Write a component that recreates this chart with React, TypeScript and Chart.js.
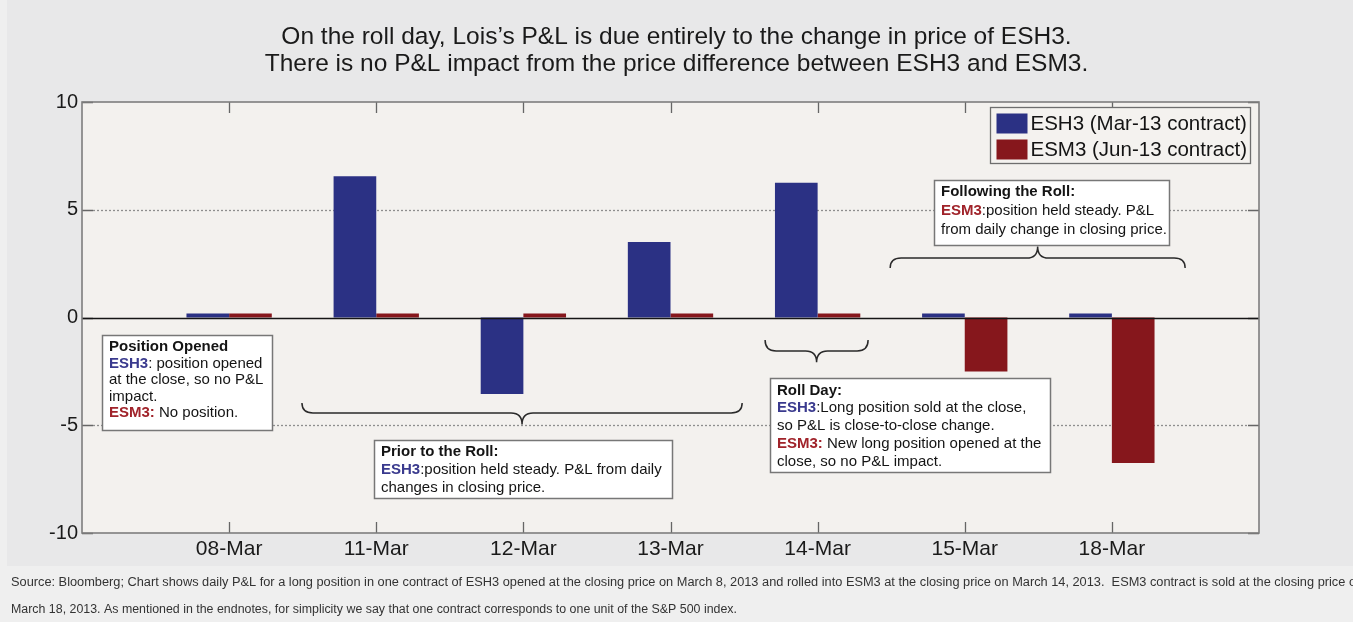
import React, { useEffect, useRef } from 'react';
import { Chart, registerables } from 'chart.js';

Chart.register(...registerables);

// ---------- data ----------
const categories = ['08-Mar', '11-Mar', '12-Mar', '13-Mar', '14-Mar', '15-Mar', '18-Mar'];
const esh3Values = [0.18, 6.55, -3.55, 3.5, 6.25, 0.18, 0.18];
const esm3Values = [0.18, 0.18, 0.18, 0.18, 0.18, -2.5, -6.75];
const seriesLabels = ['ESH3 (Mar-13 contract)', 'ESM3 (Jun-13 contract)'];
const yTickValues = [-10, -5, 0, 5, 10];
const titleLines = [
  'On the roll day, Lois\u2019s P&L is due entirely to the change in price of ESH3.',
  'There is no P&L impact from the price difference between ESH3 and ESM3.',
];
const footerLines = [
  'Source: Bloomberg; Chart shows daily P&L for a long position in one contract of ESH3 opened at the closing price on March 8, 2013 and rolled into ESM3 at the closing price on March 14, 2013.  ESM3 contract is sold at the closing price on',
  'March 18, 2013. As mentioned in the endnotes, for simplicity we say that one contract corresponds to one unit of the S&P 500 index.',
];

// ---------- style ----------
const FONT = '"Liberation Sans", Arial, Helvetica, sans-serif';
const BLUE = '#2b3184';
const RED = '#86171c';
const LBL_BLUE = '#3a3a8e';
const LBL_RED = '#a0232a';

type Seg = { t: string; bold?: boolean; color?: string };
type Note = { x1: number; x2: number; yTop: number; yBottom: number; lh: number; first: number; lines: Seg[][] };

const noteOpened: Note = {
  x1: 0.136, x2: 1.29, yTop: -0.81, yBottom: -5.22, lh: 16.5, first: 11.5,
  lines: [
    [{ t: 'Position Opened', bold: true }],
    [{ t: 'ESH3', bold: true, color: LBL_BLUE }, { t: ': position opened' }],
    [{ t: 'at the close, so no P&L' }],
    [{ t: 'impact.' }],
    [{ t: 'ESM3:', bold: true, color: LBL_RED }, { t: ' No position.' }],
  ],
};
const notePrior: Note = {
  x1: 1.985, x2: 4.01, yTop: -5.68, yBottom: -8.38, lh: 18, first: 11.5,
  lines: [
    [{ t: 'Prior to the Roll:', bold: true }],
    [{ t: 'ESH3', bold: true, color: LBL_BLUE }, { t: ':position held steady. P&L from daily' }],
    [{ t: 'changes in closing price.' }],
  ],
};
const noteRoll: Note = {
  x1: 4.677, x2: 6.58, yTop: -2.81, yBottom: -7.17, lh: 17.8, first: 12,
  lines: [
    [{ t: 'Roll Day:', bold: true }],
    [{ t: 'ESH3', bold: true, color: LBL_BLUE }, { t: ':Long position sold at the close,' }],
    [{ t: 'so P&L is close-to-close change.' }],
    [{ t: 'ESM3:', bold: true, color: LBL_RED }, { t: ' New long position opened at the' }],
    [{ t: 'close, so no P&L impact.' }],
  ],
};
const noteFollowing: Note = {
  x1: 5.79, x2: 7.39, yTop: 6.38, yBottom: 3.36, lh: 19, first: 11.5,
  lines: [
    [{ t: 'Following the Roll:', bold: true }],
    [{ t: 'ESM3', bold: true, color: LBL_RED }, { t: ':position held steady. P&L' }],
    [{ t: 'from daily change in closing price.' }],
  ],
};
const notes = [noteOpened, notePrior, noteRoll, noteFollowing];

// braces: x range (category units), y of ends, line, tip (value units)
const braces = [
  { x1: 1.495, x2: 4.487, yEnd: -3.97, yLine: -4.43, yTip: -4.96 },
  { x1: 4.643, x2: 5.343, yEnd: -1.04, yLine: -1.55, yTip: -2.08 },
  { x1: 5.493, x2: 7.498, yEnd: 2.3, yLine: 2.76, yTip: 3.3 },
];

function drawBrace(ctx: CanvasRenderingContext2D, x1: number, x2: number, yEnd: number, yLine: number, yTip: number) {
  const xm = (x1 + x2) / 2;
  const r = Math.min(11, (x2 - x1) / 8);
  ctx.beginPath();
  ctx.moveTo(x1, yEnd);
  ctx.quadraticCurveTo(x1, yLine, x1 + r, yLine);
  ctx.lineTo(xm - r, yLine);
  ctx.quadraticCurveTo(xm, yLine, xm, yTip);
  ctx.quadraticCurveTo(xm, yLine, xm + r, yLine);
  ctx.lineTo(x2 - r, yLine);
  ctx.quadraticCurveTo(x2, yLine, x2, yEnd);
  ctx.stroke();
}

const decorPlugin = {
  id: 'decor',
  beforeDraw(chart: any) {
    const { ctx, chartArea: a, width, height } = chart;
    ctx.save();
    ctx.fillStyle = '#efefef';
    ctx.fillRect(0, 0, width, height);
    ctx.fillStyle = '#e8e8e9';
    ctx.fillRect(7, 0, width - 7, 566);
    ctx.fillStyle = '#f3f1ee';
    ctx.fillRect(a.left, a.top, a.right - a.left, a.bottom - a.top);
    ctx.restore();
  },
  beforeDatasetsDraw(chart: any) {
    const { ctx, chartArea: a, scales } = chart;
    const x = scales.x;
    const y = scales.y;
    ctx.save();
    ctx.strokeStyle = '#8e8e8e';
    ctx.lineWidth = 1.3;
    ctx.setLineDash([2, 2]);
    for (const v of yTickValues) {
      if (v === 0 || v === 10 || v === -10) continue;
      const py = Math.round(y.getPixelForValue(v)) + 0.5;
      ctx.beginPath();
      ctx.moveTo(a.left + 11, py);
      ctx.lineTo(a.right - 11, py);
      ctx.stroke();
    }
    ctx.setLineDash([]);
    ctx.strokeStyle = '#666';
    ctx.lineWidth = 1.3;
    for (const v of yTickValues) {
      const py = Math.round(y.getPixelForValue(v)) + 0.5;
      ctx.beginPath();
      ctx.moveTo(a.left, py);
      ctx.lineTo(a.left + 11, py);
      ctx.moveTo(a.right - 11, py);
      ctx.lineTo(a.right, py);
      ctx.stroke();
    }
    for (let i = 1; i <= categories.length; i++) {
      const px = Math.round(x.getPixelForValue(i)) + 0.5;
      ctx.beginPath();
      ctx.moveTo(px, a.bottom);
      ctx.lineTo(px, a.bottom - 11);
      ctx.moveTo(px, a.top);
      ctx.lineTo(px, a.top + 11);
      ctx.stroke();
    }
    ctx.restore();
  },
  afterDatasetsDraw(chart: any) {
    const { ctx, chartArea: a, scales } = chart;
    const x = scales.x;
    const y = scales.y;
    ctx.save();
    // zero line
    const y0 = Math.round(y.getPixelForValue(0)) + 0.5;
    ctx.strokeStyle = '#151515';
    ctx.lineWidth = 1.5;
    ctx.beginPath();
    ctx.moveTo(a.left, y0);
    ctx.lineTo(a.right, y0);
    ctx.stroke();
    // plot border
    ctx.strokeStyle = '#7e7e7e';
    ctx.lineWidth = 1.6;
    ctx.strokeRect(a.left, a.top, a.right - a.left, a.bottom - a.top);

    // braces
    ctx.strokeStyle = '#2a2a2a';
    ctx.lineWidth = 1.5;
    for (const b of braces) {
      drawBrace(ctx, x.getPixelForValue(b.x1), x.getPixelForValue(b.x2), y.getPixelForValue(b.yEnd), y.getPixelForValue(b.yLine), y.getPixelForValue(b.yTip));
    }

    // notes
    for (const n of notes) {
      const l = Math.round(x.getPixelForValue(n.x1)) + 0.5;
      const r = Math.round(x.getPixelForValue(n.x2)) + 0.5;
      const t = Math.round(y.getPixelForValue(n.yTop)) + 0.5;
      const bt = Math.round(y.getPixelForValue(n.yBottom)) + 0.5;
      ctx.fillStyle = '#ffffff';
      ctx.fillRect(l, t, r - l, bt - t);
      ctx.strokeStyle = '#777';
      ctx.lineWidth = 1.5;
      ctx.strokeRect(l, t, r - l, bt - t);
      ctx.textBaseline = 'middle';
      ctx.textAlign = 'left';
      n.lines.forEach((segs, i) => {
        let cx = l + 6.5;
        const cy = t + n.first + i * n.lh;
        for (const s of segs) {
          ctx.font = (s.bold ? 'bold ' : '') + '15px ' + FONT;
          ctx.fillStyle = s.color || '#141414';
          ctx.fillText(s.t, cx, cy);
          cx += ctx.measureText(s.t).width;
        }
      });
    }

    // legend
    const lw = 260;
    const lh = 56;
    const lx = Math.round(a.right - 9 - lw) + 0.5;
    const ly = Math.round(a.top + 5) + 0.5;
    ctx.fillStyle = '#f4f2ef';
    ctx.fillRect(lx, ly, lw, lh);
    ctx.strokeStyle = '#6e6e6e';
    ctx.lineWidth = 1.3;
    ctx.strokeRect(lx, ly, lw, lh);
    ctx.font = '20.5px ' + FONT;
    ctx.textBaseline = 'middle';
    chart.data.datasets.forEach((ds: any, i: number) => {
      const sy = ly + 6 + i * 26;
      ctx.fillStyle = ds.backgroundColor;
      ctx.fillRect(lx + 6, sy, 31, 20);
      ctx.fillStyle = '#141414';
      ctx.fillText(ds.label, lx + 40, sy + 10.5);
    });

    // footer
    ctx.fillStyle = '#333';
    ctx.font = '12px ' + FONT;
    const l1 = footerLines[0];
    const cut = l1.slice(0, l1.lastIndexOf(' on') + 2);
    const sx1 = 1345 / ctx.measureText(cut).width;
    const sx2 = 726 / ctx.measureText(footerLines[1]).width;
    const scalesX = [sx1, sx2];
    const ys = [583, 610];
    footerLines.forEach((line, i) => {
      ctx.save();
      ctx.translate(11, ys[i]);
      ctx.scale(scalesX[i], 1);
      ctx.fillText(line, 0, 0);
      ctx.restore();
    });
    ctx.restore();
  },
};

export default function App() {
  const ref = useRef<HTMLCanvasElement | null>(null);
  useEffect(() => {
    if (!ref.current) return;
    const labels = ['', ...categories, ''];
    const chart = new Chart(ref.current, {
      type: 'bar',
      data: {
        labels,
        datasets: [
          { label: seriesLabels[0], data: [null, ...esh3Values, null], backgroundColor: BLUE, borderWidth: 0, categoryPercentage: 0.58, barPercentage: 1 },
          { label: seriesLabels[1], data: [null, ...esm3Values, null], backgroundColor: RED, borderWidth: 0, categoryPercentage: 0.58, barPercentage: 1 },
        ],
      } as any,
      options: {
        responsive: false,
        maintainAspectRatio: false,
        animation: false,
        devicePixelRatio: 1,
        layout: { padding: { left: 0, right: 0, top: 0, bottom: 0 } },
        plugins: {
          legend: { display: false },
          tooltip: { enabled: false },
          title: {
            display: true,
            text: titleLines,
            color: '#1a1a1a',
            font: { size: 24.5, family: FONT, weight: 'normal', lineHeight: 27 / 24.5 },
            padding: { top: 23.5, bottom: 24.5 },
          },
        },
        scales: {
          x: {
            type: 'category',
            offset: false,
            grid: { display: false, drawTicks: false },
            border: { display: false },
            ticks: { autoSkip: false, maxRotation: 0, minRotation: 0, color: '#1a1a1a', font: { size: 21, family: FONT }, padding: 4 },
            afterFit: (s: any) => { s.height = 89; },
          },
          y: {
            min: -10,
            max: 10,
            grid: { display: false, drawTicks: false },
            border: { display: false },
            ticks: { stepSize: 5, color: '#1a1a1a', font: { size: 20, family: FONT }, padding: 4 },
            afterFit: (s: any) => { s.width = 82; },
          },
          yRight: {
            position: 'right',
            min: -10,
            max: 10,
            grid: { display: false, drawTicks: false },
            border: { display: false },
            ticks: { display: false },
            afterFit: (s: any) => { s.width = 94; },
          },
        },
      } as any,
      plugins: [decorPlugin],
    });
    return () => chart.destroy();
  }, []);
  return (
    <div style={{ position: 'fixed', left: 0, top: 0, width: 1353, height: 622, overflow: 'hidden' }}>
      <canvas ref={ref} width={1353} height={622} style={{ display: 'block', width: 1353, height: 622 }} />
    </div>
  );
}
